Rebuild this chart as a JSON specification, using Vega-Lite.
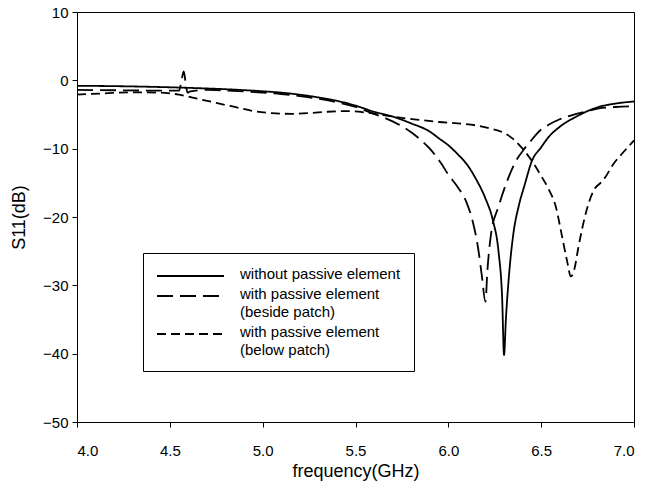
{
  "$schema": "https://vega.github.io/schema/vega-lite/v6.json",
  "autosize": "none",
  "padding": {"left": 77, "top": 12, "right": 12, "bottom": 70},
  "width": 557,
  "height": 410,
  "config": {
    "font": "Liberation Sans",
    "view": {"stroke": "black", "strokeWidth": 1},
    "axis": {"grid": false, "domainColor": "black", "tickColor": "black", "labelColor": "black", "titleColor": "black", "labelFontSize": 15, "titleFontSize": 18, "titleFontWeight": "normal", "tickSize": 5, "domainWidth": 1}
  },
  "datasets": {
    "curves": [
      {"s": "a", "f": 4.0, "db": -0.8}, {"s": "a", "f": 4.2, "db": -0.85}, {"s": "a", "f": 4.4, "db": -0.95}, {"s": "a", "f": 4.6, "db": -1.1}, {"s": "a", "f": 4.8, "db": -1.3}, {"s": "a", "f": 5.0, "db": -1.6}, {"s": "a", "f": 5.1, "db": -1.8}, {"s": "a", "f": 5.2, "db": -2.1}, {"s": "a", "f": 5.3, "db": -2.5}, {"s": "a", "f": 5.4, "db": -3.0}, {"s": "a", "f": 5.5, "db": -3.7}, {"s": "a", "f": 5.6, "db": -4.6}, {"s": "a", "f": 5.7, "db": -5.3}, {"s": "a", "f": 5.8, "db": -6.3}, {"s": "a", "f": 5.9, "db": -7.5}, {"s": "a", "f": 5.95, "db": -8.5}, {"s": "a", "f": 6.0, "db": -9.5}, {"s": "a", "f": 6.05, "db": -10.8}, {"s": "a", "f": 6.1, "db": -12.3}, {"s": "a", "f": 6.15, "db": -14.5}, {"s": "a", "f": 6.2, "db": -17.3}, {"s": "a", "f": 6.24, "db": -20.5}, {"s": "a", "f": 6.27, "db": -25}, {"s": "a", "f": 6.29, "db": -32}, {"s": "a", "f": 6.3, "db": -40.2}, {"s": "a", "f": 6.31, "db": -35}, {"s": "a", "f": 6.33, "db": -27.5}, {"s": "a", "f": 6.35, "db": -22.5}, {"s": "a", "f": 6.38, "db": -18.3}, {"s": "a", "f": 6.41, "db": -15.4}, {"s": "a", "f": 6.45, "db": -11.8}, {"s": "a", "f": 6.5, "db": -9.8}, {"s": "a", "f": 6.54, "db": -8.3}, {"s": "a", "f": 6.6, "db": -6.8}, {"s": "a", "f": 6.69, "db": -5.3}, {"s": "a", "f": 6.75, "db": -4.5}, {"s": "a", "f": 6.81, "db": -3.9}, {"s": "a", "f": 6.9, "db": -3.4}, {"s": "a", "f": 7.0, "db": -3.1},
      {"s": "b", "f": 4.0, "db": -1.4}, {"s": "b", "f": 4.2, "db": -1.45}, {"s": "b", "f": 4.4, "db": -1.5}, {"s": "b", "f": 4.55, "db": -1.5}, {"s": "b", "f": 4.565, "db": 0.3}, {"s": "b", "f": 4.575, "db": 1.3}, {"s": "b", "f": 4.585, "db": -0.3}, {"s": "b", "f": 4.595, "db": -1.8}, {"s": "b", "f": 4.61, "db": -1.6}, {"s": "b", "f": 4.7, "db": -1.4}, {"s": "b", "f": 4.8, "db": -1.5}, {"s": "b", "f": 5.0, "db": -1.8}, {"s": "b", "f": 5.1, "db": -2.0}, {"s": "b", "f": 5.2, "db": -2.3}, {"s": "b", "f": 5.3, "db": -2.7}, {"s": "b", "f": 5.4, "db": -3.2}, {"s": "b", "f": 5.5, "db": -3.9}, {"s": "b", "f": 5.6, "db": -4.9}, {"s": "b", "f": 5.7, "db": -6.0}, {"s": "b", "f": 5.8, "db": -7.6}, {"s": "b", "f": 5.85, "db": -8.7}, {"s": "b", "f": 5.9, "db": -10.0}, {"s": "b", "f": 5.96, "db": -12.1}, {"s": "b", "f": 6.0, "db": -13.8}, {"s": "b", "f": 6.05, "db": -15.6}, {"s": "b", "f": 6.1, "db": -18.0}, {"s": "b", "f": 6.13, "db": -20.5}, {"s": "b", "f": 6.16, "db": -24.5}, {"s": "b", "f": 6.18, "db": -28.5}, {"s": "b", "f": 6.2, "db": -32.4}, {"s": "b", "f": 6.21, "db": -28}, {"s": "b", "f": 6.23, "db": -22.5}, {"s": "b", "f": 6.27, "db": -18.5}, {"s": "b", "f": 6.32, "db": -14.5}, {"s": "b", "f": 6.36, "db": -12}, {"s": "b", "f": 6.41, "db": -10}, {"s": "b", "f": 6.44, "db": -9}, {"s": "b", "f": 6.5, "db": -7.2}, {"s": "b", "f": 6.54, "db": -6.5}, {"s": "b", "f": 6.6, "db": -5.7}, {"s": "b", "f": 6.69, "db": -4.9}, {"s": "b", "f": 6.75, "db": -4.5}, {"s": "b", "f": 6.81, "db": -4.1}, {"s": "b", "f": 6.9, "db": -3.9}, {"s": "b", "f": 7.0, "db": -3.8},
      {"s": "c", "f": 4.0, "db": -2.1}, {"s": "c", "f": 4.15, "db": -1.9}, {"s": "c", "f": 4.3, "db": -1.75}, {"s": "c", "f": 4.45, "db": -1.8}, {"s": "c", "f": 4.55, "db": -2.1}, {"s": "c", "f": 4.65, "db": -2.7}, {"s": "c", "f": 4.75, "db": -3.3}, {"s": "c", "f": 4.85, "db": -3.9}, {"s": "c", "f": 4.95, "db": -4.5}, {"s": "c", "f": 5.05, "db": -4.8}, {"s": "c", "f": 5.15, "db": -4.9}, {"s": "c", "f": 5.25, "db": -4.8}, {"s": "c", "f": 5.35, "db": -4.6}, {"s": "c", "f": 5.45, "db": -4.5}, {"s": "c", "f": 5.55, "db": -4.7}, {"s": "c", "f": 5.65, "db": -5.1}, {"s": "c", "f": 5.75, "db": -5.5}, {"s": "c", "f": 5.85, "db": -5.8}, {"s": "c", "f": 5.95, "db": -6.1}, {"s": "c", "f": 6.05, "db": -6.3}, {"s": "c", "f": 6.15, "db": -6.6}, {"s": "c", "f": 6.22, "db": -7.0}, {"s": "c", "f": 6.3, "db": -7.7}, {"s": "c", "f": 6.35, "db": -8.6}, {"s": "c", "f": 6.4, "db": -10.0}, {"s": "c", "f": 6.46, "db": -12.2}, {"s": "c", "f": 6.5, "db": -14}, {"s": "c", "f": 6.54, "db": -15.9}, {"s": "c", "f": 6.58, "db": -18.6}, {"s": "c", "f": 6.61, "db": -22.5}, {"s": "c", "f": 6.64, "db": -26.5}, {"s": "c", "f": 6.66, "db": -28.7}, {"s": "c", "f": 6.68, "db": -27.5}, {"s": "c", "f": 6.7, "db": -24.5}, {"s": "c", "f": 6.72, "db": -21.8}, {"s": "c", "f": 6.75, "db": -18.5}, {"s": "c", "f": 6.79, "db": -15.8}, {"s": "c", "f": 6.82, "db": -15.0}, {"s": "c", "f": 6.85, "db": -14.0}, {"s": "c", "f": 6.88, "db": -12.6}, {"s": "c", "f": 6.94, "db": -10.6}, {"s": "c", "f": 7.0, "db": -8.8}
    ]
  },
  "data": {"name": "curves"},
  "mark": {"type": "line", "color": "black", "strokeWidth": 1.8, "interpolate": "monotone", "clip": true},
  "encoding": {
    "x": {"field": "f", "type": "quantitative", "scale": {"domain": [4, 7], "nice": false, "zero": false},
      "axis": {"values": [4, 4.5, 5, 5.5, 6, 6.5, 7], "format": ".1f", "title": "frequency(GHz)", "labelPadding": 16, "titlePadding": 4}},
    "y": {"field": "db", "type": "quantitative", "scale": {"domain": [-50, 10], "nice": false, "zero": false},
      "axis": {"values": [-50, -40, -30, -20, -10, 0, 10], "title": "S11(dB)", "labelPadding": 4, "titlePadding": 14}},
    "strokeDash": {"field": "s", "type": "nominal",
      "scale": {"domain": ["a", "b", "c"], "range": [[1, 0], [16, 7], [9, 5]]},
      "legend": {
        "orient": "none", "legendX": 66, "legendY": 241, "title": null,
        "labelExpr": "datum.value == 'a' ? 'without passive element' : datum.value == 'b' ? ['with passive element', '(beside patch)'] : ['with passive element', '(below patch)']",
        "labelFontSize": 15, "labelColor": "black", "labelLimit": 400, "labelOffset": 15, "labelBaseline": "top",
        "symbolType": "M-1,0H1", "symbolSize": 4489, "symbolStrokeWidth": 1.8, "symbolStrokeColor": "black",
        "strokeColor": "black", "padding": 13, "rowPadding": 4, "fillColor": "white",
        "encode": {
          "labels": {"update": {"y": {"value": 1}, "lineHeight": {"value": 17.5}}},
          "symbols": {"update": {"y": {"value": 10}}}
        }
      }}
  }
}
